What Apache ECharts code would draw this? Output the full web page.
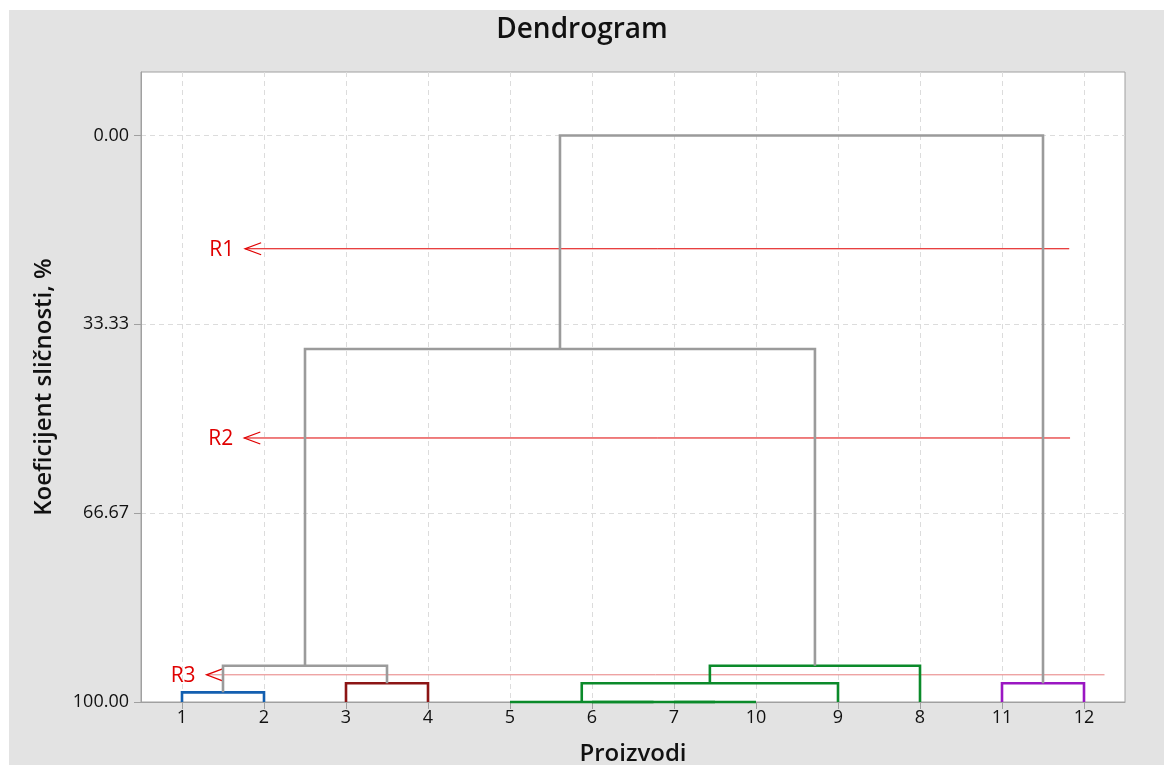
<!DOCTYPE html>
<html>
<head>
<meta charset="utf-8">
<script src="https://cdn.jsdelivr.net/npm/echarts@6/dist/echarts.min.js"></script>
<style>
html,body{margin:0;padding:0;background:#fff;}
#bg{position:absolute;left:9px;top:10px;width:1155px;height:755px;background:#e3e3e3;}
#chart{position:absolute;left:0;top:0;width:1164px;height:765px;}
</style>
</head>
<body>
<div id="bg"></div>
<div id="chart"></div>
<script>
// ---- Data ----
// leaf order along the x axis (positions 1..12)
const leaves = ['1', '2', '3', '4', '5', '6', '7', '10', '9', '8', '11', '12'];
// merges: node ids 0..11 are leaves (by position), merge k creates node 12+k
const mergeA   = [0, 2, 6, 5, 4, 16, 17, 10, 12, 20, 21];
const mergeB   = [1, 3, 7, 14, 15, 8, 9, 11, 13, 18, 19];
const mergeSim = [98.3, 96.7, 100, 100, 100, 96.7, 93.6, 96.7, 93.6, 37.7, 0];
const mergeGroup = ['blue', 'red', 'green', 'green', 'green', 'green', 'green', 'purple', 'gray', 'gray', 'gray'];
// y-axis tick values (similarity %)
const yTicks = [0, 100 / 3, 200 / 3, 100];
// cut lines (arrows): name, level, tip x, tail x
const cutNames = ['R1', 'R2', 'R3'];
const cutLevel = [20.0, 53.4, 95.2];
const cutTipX  = [1.77, 1.76, 1.30];
const cutTailX = [11.82, 11.83, 12.25];

// ---- Styles ----
const groupColors = { blue: '#135fb0', red: '#8c1515', green: '#0b8a2a', purple: '#9a16c2', gray: '#9b9b9b' };
const cutColors = ['#e00000', '#e00000', '#e88080'];
const FONT = '"Open Sans", "Noto Sans", sans-serif';

// ---- Build link geometry from merge table ----
const nodeX = leaves.map((_, i) => i + 1);
const nodeH = leaves.map(() => 100);
const links = [];
for (let k = 0; k < mergeA.length; k++) {
  const a = mergeA[k], b = mergeB[k], h = mergeSim[k];
  links.push([nodeX[a], nodeH[a], nodeX[b], nodeH[b], h, k]);
  nodeX.push((nodeX[a] + nodeX[b]) / 2);
  nodeH.push(h);
}
const cuts = cutNames.map((n, i) => [cutTipX[i], cutLevel[i], cutTailX[i], i]);

const chart = echarts.init(document.getElementById('chart'), null, { renderer: 'canvas' });
chart.setOption({
  backgroundColor: 'transparent',
  animation: false,
  title: {
    text: 'Dendrogram', left: 'center', top: 11,
    textStyle: { fontFamily: FONT, fontSize: 28, fontWeight: 600, color: '#111' }
  },
  grid: {
    left: 141, top: 72, right: 39, bottom: 63, containLabel: false, outerBoundsMode: 'none',
    show: true, backgroundColor: '#fff', borderColor: '#a0a0a0', borderWidth: 1
  },
  xAxis: {
    type: 'value', min: 0.5, max: 12.5,
    name: 'Proizvodi', nameLocation: 'middle', nameGap: 40,
    nameTextStyle: { fontFamily: FONT, fontSize: 24, fontWeight: 600, color: '#111' },
    axisLine: { show: true, onZero: false, lineStyle: { color: '#a0a0a0' } },
    axisTick: { show: true, length: 7, customValues: leaves.map((_, i) => i + 1), lineStyle: { color: '#a0a0a0' } },
    axisLabel: {
      customValues: leaves.map((_, i) => i + 1), margin: 7,
      formatter: v => leaves[Math.round(v) - 1],
      fontFamily: FONT, fontSize: 18, color: '#111'
    },
    splitLine: { show: true, lineStyle: { color: '#dcdcdc', type: [5, 4] } }
  },
  yAxis: {
    type: 'value', inverse: true, min: -11.2, max: 100,
    name: 'Koeficijent sličnosti, %', nameLocation: 'middle', nameGap: 85,
    nameTextStyle: { fontFamily: FONT, fontSize: 24, fontWeight: 600, color: '#111' },
    axisLine: { show: true, onZero: false, lineStyle: { color: '#a0a0a0' } },
    axisTick: { show: true, length: 7, customValues: yTicks, lineStyle: { color: '#a0a0a0' } },
    axisLabel: {
      customValues: yTicks, margin: 12,
      formatter: v => v.toFixed(2),
      fontFamily: FONT, fontSize: 18, color: '#111'
    },
    splitLine: { show: true, lineStyle: { color: '#dcdcdc', type: [5, 4] } }
  },
  series: [
    {
      type: 'custom', name: 'cuts', clip: false, z: 3,
      data: cuts,
      renderItem: (params, api) => {
        const tip = api.coord([api.value(0), api.value(1)]);
        const tail = api.coord([api.value(2), api.value(1)]);
        const i = api.value(3);
        const col = cutColors[i];
        return {
          type: 'group',
          children: [
            { type: 'line', shape: { x1: tip[0], y1: tip[1], x2: tail[0], y2: tail[1] }, style: { stroke: col, lineWidth: 1 } },
            { type: 'polyline', shape: { points: [[tip[0] + 16, tip[1] - 6], [tip[0], tip[1]], [tip[0] + 16, tip[1] + 6]] }, style: { stroke: '#e00000', lineWidth: 1.3, fill: null } },
            { type: 'text', style: { text: cutNames[i], x: tip[0] - 11, y: tip[1] + 1, align: 'right', verticalAlign: 'middle', fill: '#e00000', font: '21px ' + FONT } }
          ]
        };
      }
    },
    {
      type: 'custom', name: 'links', clip: false, z: 4,
      data: links,
      renderItem: (params, api) => {
        const x1 = api.value(0), y1 = api.value(1), x2 = api.value(2), y2 = api.value(3), h = api.value(4);
        const k = api.value(5);
        const pts = [api.coord([x1, y1]), api.coord([x1, h]), api.coord([x2, h]), api.coord([x2, y2])];
        return {
          type: 'polyline', shape: { points: pts },
          style: { stroke: groupColors[mergeGroup[k]], lineWidth: 2.6, fill: null, lineJoin: 'miter' }
        };
      }
    }
  ]
});
</script>
</body>
</html>
